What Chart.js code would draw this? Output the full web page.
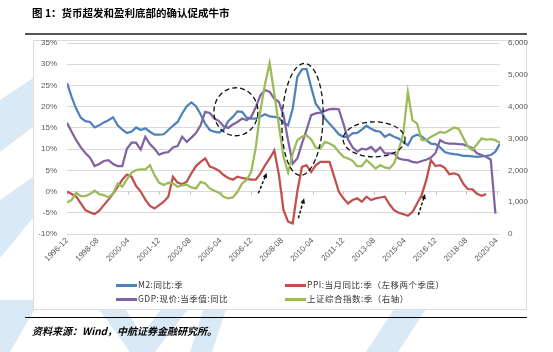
<!DOCTYPE html>
<html>
<head>
<meta charset="utf-8">
<script src="https://cdn.jsdelivr.net/npm/chart.js@4.4.1/dist/chart.umd.min.js"></script>
<style>
body { margin: 0; width: 553px; height: 352px; position: relative; overflow: hidden; background: #fff;
       font-family: "Noto Sans CJK SC", "Liberation Sans", sans-serif; }
#wm { position: absolute; left: 0; top: 0; }
.title { position: absolute; left: 32px; top: 5px; font-size: 10.5px; font-weight: 700; color: #000; white-space: nowrap; }
.rule { position: absolute; left: 25px; width: 502px; top: 33px; height: 2px; background: #555; }
.box { position: absolute; left: 33px; top: 40px; width: 494px; height: 270px; border: 1px solid #dcdcdc; background: #fff; box-sizing: border-box; }
#chart { position: absolute; left: 0; top: 0; }
.leg { position: absolute; font-size: 8.5px; letter-spacing: 0.5px; color: #333; white-space: nowrap; line-height: 10px; }
.leg i { display: inline-block; width: 21px; height: 3px; vertical-align: middle; margin-right: 1px; }
.rule2 { position: absolute; left: 25px; width: 502px; top: 317px; height: 1px; background: #000; }
.source { position: absolute; left: 32px; top: 323px; font-size: 10px; font-weight: 700; font-style: italic; white-space: nowrap; }
</style>
</head>
<body>
<canvas id="wm" width="553" height="352"></canvas>
<div class="title">图 1：货币超发和盈利底部的确认促成牛市</div>
<div class="rule"></div>
<div class="box"></div>
<canvas id="chart" width="553" height="352"></canvas>
<div id="legend"></div>
<div class="rule2"></div>
<div class="source">资料来源：Wind，中航证券金融研究所。</div>

<script>
// quarterly points, 1996-12 .. 2020-06
const quarters = [
  '1996-12',
  '1997-03', '1997-06', '1997-09', '1997-12', '1998-03', '1998-06', '1998-09', '1998-12',
  '1999-03', '1999-06', '1999-09', '1999-12', '2000-03', '2000-06', '2000-09', '2000-12',
  '2001-03', '2001-06', '2001-09', '2001-12', '2002-03', '2002-06', '2002-09', '2002-12',
  '2003-03', '2003-06', '2003-09', '2003-12', '2004-03', '2004-06', '2004-09', '2004-12',
  '2005-03', '2005-06', '2005-09', '2005-12', '2006-03', '2006-06', '2006-09', '2006-12',
  '2007-03', '2007-06', '2007-09', '2007-12', '2008-03', '2008-06', '2008-09', '2008-12',
  '2009-03', '2009-06', '2009-09', '2009-12', '2010-03', '2010-06', '2010-09', '2010-12',
  '2011-03', '2011-06', '2011-09', '2011-12', '2012-03', '2012-06', '2012-09', '2012-12',
  '2013-03', '2013-06', '2013-09', '2013-12', '2014-03', '2014-06', '2014-09', '2014-12',
  '2015-03', '2015-06', '2015-09', '2015-12', '2016-03', '2016-06', '2016-09', '2016-12',
  '2017-03', '2017-06', '2017-09', '2017-12', '2018-03', '2018-06', '2018-09', '2018-12',
  '2019-03', '2019-06', '2019-09', '2019-12', '2020-03', '2020-06'
];

// M2 yoy (%)
const m2 = [
  25.6,
  22.3, 19.5, 17.4, 16.6, 16.4, 15.1, 15.6, 16.3,
  16.8, 17.5, 15.6, 14.6, 13.8, 14.1, 15.1, 14.5,
  14.9, 14.1, 13.4, 13.4, 13.5, 14.5, 15.5, 16.4,
  18.4, 20.1, 21.0, 20.1, 18.2, 16.0, 14.5, 14.1,
  13.9, 14.6, 16.6, 17.6, 18.9, 18.8, 17.4, 17.2,
  17.2, 17.7, 18.2, 17.7, 17.6, 17.4, 16.2, 15.6,
  19.5, 27.0, 28.8, 28.9, 24.6, 20.7, 19.2, 17.2,
  16.0, 14.8, 13.5, 12.9, 12.9, 13.7, 13.8, 14.6,
  15.5, 14.8, 14.3, 14.1, 12.9, 13.5, 12.9, 12.5,
  11.7, 10.9, 12.9, 13.4, 13.0, 12.1, 11.3, 11.2,
  10.4, 9.3, 9.0, 8.8, 8.7, 8.4, 8.4, 8.3,
  8.2, 8.3, 8.4, 8.6, 9.4, 11.3
];

// PPI yoy (%), shifted two quarters to the left
const ppi = [
  0.0,
  -0.6, -1.2, -2.8, -4.4, -4.9, -5.3, -4.5, -3.2,
  -1.9, -0.5, 1.1, 2.8, 4.0, 3.5, 1.3, 0.0,
  -1.9, -3.4, -4.0, -3.2, -2.4, -1.2, 3.5, 2.1,
  1.7, 2.3, 4.3, 6.0, 7.0, 7.8, 5.9, 5.5,
  4.9, 3.9, 3.2, 2.8, 3.5, 3.2, 3.0, 2.8,
  2.8, 4.3, 6.2, 7.8, 9.7, 4.0, -4.4, -7.1,
  -7.5, 0.0, 5.8, 6.2, 4.6, 6.2, 7.0, 7.0,
  7.0, 3.5, 0.0, -1.6, -2.8, -2.0, -1.6, -2.4,
  -1.2, -2.0, -1.6, -1.4, -1.2, -3.0, -4.4, -5.0,
  -5.3, -5.7, -4.8, -2.8, -0.8, 2.7, 7.4, 6.0,
  6.2, 5.6, 4.1, 4.3, 3.9, 1.9, 0.6, 0.5,
  -0.5, -1.0, -0.6, null, null, null
];

// nominal GDP yoy (%)
const gdp = [
  16.2,
  14.1, 12.1, 10.4, 9.1, 8.0, 6.0, 6.5, 7.2,
  7.4, 6.5, 6.0, 6.0, 10.1, 11.5, 11.5, 9.9,
  12.9, 11.2, 10.1, 8.7, 9.1, 9.3, 10.4, 10.7,
  12.9, 11.7, 12.7, 13.8, 15.6, 18.8, 18.5, 17.2,
  16.6, 15.4, 15.0, 15.8, 16.4, 17.2, 16.8, 17.6,
  19.9, 22.7, 23.9, 23.5, 21.9, 21.1, 18.0, 12.0,
  6.6, 7.8, 11.3, 14.5, 18.0, 18.4, 18.6, 19.0,
  19.4, 19.5, 19.4, 16.0, 12.3, 10.4, 9.4, 10.1,
  9.9, 10.5, 9.4, 10.4, 9.0, 9.0, 9.0, 7.8,
  7.5, 7.4, 7.0, 6.8, 7.2, 7.5, 8.0, 9.1,
  12.1, 11.5, 11.3, 11.3, 11.2, 11.1, 10.7, 10.2,
  9.0, 8.6, 8.2, 7.5, -5.2, null
];

// Shanghai Composite (right axis)
const shIndex = [
  993,
  1066, 1296, 1191, 1191, 1254, 1359, 1254, 1223,
  1150, 1275, 1588, 1484, 1714, 1923, 2006, 2027,
  2027, 2163, 1850, 1609, 1536, 1609, 1588, 1484,
  1526, 1547, 1463, 1432, 1641, 1588, 1432, 1359,
  1296, 1170, 1118, 1150, 1327, 1588, 1693, 1954,
  2738, 3887, 4723, 5371, 4410, 3417, 2420, 1933,
  2529, 2947, 3051, 3104, 2968, 2717, 2686, 2895,
  2842, 2759, 2581, 2424, 2372, 2299, 2132, 2132,
  2320, 2195, 2059, 2163, 2090, 2059, 2215, 2633,
  3156, 4462, 3574, 3469, 2947, 2947, 3051, 3125,
  3208, 3177, 3260, 3344, 3313, 3031, 2759, 2633,
  2822, 2999, 2968, 2978, 2947, 2863
];

const tickLabels = ['1996-12', '1998-08', '2000-04', '2001-12', '2003-08', '2005-04', '2006-12', '2008-08',
                    '2010-04', '2011-12', '2013-08', '2015-04', '2016-12', '2018-08', '2020-04'];

const seriesNames = ['M2:同比:季', 'PPI:当月同比:季（左移两个季度）', 'GDP:现价:当季值:同比', '上证综合指数:季（右轴）'];
const seriesColors = ['#4f81bd', '#c0504d', '#8064a2', '#9bbb59'];

// dashed rings and arrows drawn on the chart (month index from 1996-12, value on left axis)
const rings = [
  { m: 110, v: 18.8, rx: 22, ry: 24, tilt: 0 },
  { m: 153.4, v: 17.0, rx: 20.5, ry: 56, tilt: 0.04 },
  { m: 200, v: 12.3, rx: 31, ry: 17.5, tilt: 0 }
];
const arrows = [
  { m0: 124.6, v0: -0.4, m1: 130.1, v1: 4.4 },
  { m0: 150.7, v0: -6.3, m1: 154.4, v1: -1.6 },
  { m0: 228.8, v0: -5.5, m1: 233.2, v1: -0.6 }
];

// months since 1996-12
function monthIndex(label) {
  const [yy, mm] = label.split('-').map(Number);
  return (yy - 1996) * 12 + mm - 12;
}
function labelOf(m) {
  const k = m + 11;
  const yy = 1996 + Math.floor(k / 12);
  const mm = (k % 12) + 1;
  return yy + '-' + String(mm).padStart(2, '0');
}

function pointsOf(values) {
  return quarters.map((q, i) => ({ x: monthIndex(q), y: values[i] }));
}

// light watermark behind the figure
function drawWatermark() {
  const c = document.getElementById('wm').getContext('2d');
  c.fillStyle = '#d9e9f6';
  const shapes = [
    [[0, 100], [33, 78], [33, 127], [0, 152]],
    [[0, 200], [33, 177], [33, 218], [0, 258]],
    [[0, 300], [40, 300], [10, 352], [0, 352]],
    [[95, 304], [122, 304], [142, 335], [165, 304], [192, 304], [155, 352], [130, 352]],
    [[205, 304], [228, 304], [212, 352], [190, 352]],
    [[400, 300], [432, 300], [398, 352], [366, 352]]
  ];
  shapes.forEach(s => {
    c.beginPath();
    s.forEach(([px, py], i) => i ? c.lineTo(px, py) : c.moveTo(px, py));
    c.closePath();
    c.fill();
  });
}

const notesPlugin = {
  id: 'notes',
  beforeDatasetsDraw(chart) {
    const { ctx, scales: { x, y } } = chart;
    const y0 = y.getPixelForValue(0);
    ctx.save();
    ctx.strokeStyle = '#bfbfbf';
    ctx.lineWidth = 1;
    tickLabels.forEach(t => {
      const px = Math.round(x.getPixelForValue(monthIndex(t))) + 0.5;
      ctx.beginPath();
      ctx.moveTo(px, y0);
      ctx.lineTo(px, y0 + 3);
      ctx.stroke();
    });
    ctx.restore();
  },
  afterDatasetsDraw(chart) {
    const { ctx, scales: { x, y } } = chart;
    ctx.save();
    ctx.strokeStyle = '#111';
    ctx.fillStyle = '#111';
    ctx.lineWidth = 1.3;
    ctx.setLineDash([5, 3]);
    rings.forEach(r => {
      ctx.beginPath();
      ctx.ellipse(x.getPixelForValue(r.m), y.getPixelForValue(r.v), r.rx, r.ry, r.tilt, 0, Math.PI * 2);
      ctx.stroke();
    });
    ctx.lineWidth = 1.5;
    ctx.setLineDash([3, 2]);
    arrows.forEach(a => {
      const x0 = x.getPixelForValue(a.m0), y0 = y.getPixelForValue(a.v0);
      const x1 = x.getPixelForValue(a.m1), y1 = y.getPixelForValue(a.v1);
      const ang = Math.atan2(y1 - y0, x1 - x0);
      const hx = x1 - 4 * Math.cos(ang), hy = y1 - 4 * Math.sin(ang);
      ctx.beginPath();
      ctx.moveTo(x0, y0);
      ctx.lineTo(hx, hy);
      ctx.stroke();
      ctx.beginPath();
      ctx.moveTo(x1, y1);
      ctx.lineTo(x1 - 5.5 * Math.cos(ang - 0.45), y1 - 5.5 * Math.sin(ang - 0.45));
      ctx.lineTo(x1 - 5.5 * Math.cos(ang + 0.45), y1 - 5.5 * Math.sin(ang + 0.45));
      ctx.closePath();
      ctx.fill();
    });
    ctx.restore();
  }
};

function buildLegend() {
  const slots = [[116, 279], [285, 279], [116, 293], [285, 293]];
  const order = [0, 1, 2, 3];
  const holder = document.getElementById('legend');
  order.forEach((s, i) => {
    const d = document.createElement('div');
    d.className = 'leg';
    d.style.left = slots[i][0] + 'px';
    d.style.top = slots[i][1] + 'px';
    d.innerHTML = '<i style="background:' + seriesColors[s] + '"></i>' + seriesNames[s];
    holder.appendChild(d);
  });
}

function createChart() {
  const tickFont = { family: '"Liberation Sans", Arial, sans-serif', size: 8 };
  const tickColor = '#595959';
  const common = { fill: false, tension: 0, borderWidth: 2.25, pointRadius: 0, spanGaps: false };

  new Chart(document.getElementById('chart').getContext('2d'), {
    type: 'line',
    data: {
      datasets: [
        { ...common, label: seriesNames[0], data: pointsOf(m2), borderColor: seriesColors[0], yAxisID: 'y', order: 3 },
        { ...common, label: seriesNames[1], data: pointsOf(ppi), borderColor: seriesColors[1], yAxisID: 'y', order: 2 },
        { ...common, label: seriesNames[2], data: pointsOf(gdp), borderColor: seriesColors[2], yAxisID: 'y', order: 1 },
        { ...common, label: seriesNames[3], data: pointsOf(shIndex), borderColor: seriesColors[3], yAxisID: 'y1', order: 0 }
      ]
    },
    options: {
      responsive: false,
      animation: false,
      layout: { padding: { top: 43, left: 0, right: 0, bottom: 0 } },
      plugins: { legend: { display: false }, tooltip: { enabled: false } },
      scales: {
        x: {
          type: 'linear',
          min: 0,
          max: 282,
          afterBuildTicks: s => { s.ticks = tickLabels.map(t => ({ value: monthIndex(t) })); },
          afterFit: s => { s.height = 352 - 234; },
          ticks: {
            autoSkip: false, minRotation: 45, maxRotation: 45, padding: 2,
            font: tickFont, color: tickColor,
            callback: v => labelOf(v)
          },
          grid: { display: false, drawTicks: false },
          border: { display: false }
        },
        y: {
          position: 'left',
          min: -10,
          max: 35,
          afterFit: s => { s.width = 67; },
          ticks: { stepSize: 5, padding: 10, font: tickFont, color: tickColor, callback: v => v + '%' },
          grid: { color: '#d9d9d9', lineWidth: 1, drawTicks: false },
          border: { display: false }
        },
        y1: {
          position: 'right',
          min: 0,
          max: 6000,
          afterFit: s => { s.width = 53; },
          ticks: { stepSize: 1000, padding: 8, font: tickFont, color: tickColor },
          grid: { display: false, drawTicks: false },
          border: { display: false }
        }
      }
    },
    plugins: [notesPlugin]
  });
}

document.addEventListener('DOMContentLoaded', function () {
  drawWatermark();
  buildLegend();
  createChart();
});
</script>
</body>
</html>
